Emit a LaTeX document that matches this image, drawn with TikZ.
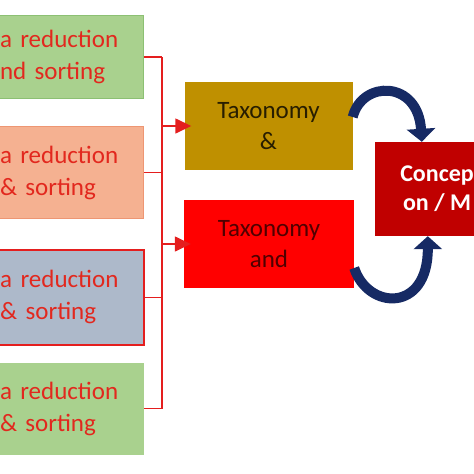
\documentclass[tikz,border=0pt]{standalone}
\usepackage{fontspec}
\setmainfont{Carlito}
\usepackage{xcolor}
\usetikzlibrary{arrows.meta,positioning}
\definecolor{lightgreen}{RGB}{169, 209, 142}
\definecolor{greenborder}{RGB}{140, 192, 115}
\definecolor{salmon}{RGB}{245, 177, 145}
\definecolor{salmonborder}{RGB}{238, 150, 115}
\definecolor{bluegray}{RGB}{173, 185, 202}
\definecolor{linkred}{RGB}{228, 30, 30}
\definecolor{textred}{RGB}{226, 40, 30}
\definecolor{gold}{RGB}{191, 144, 0}
\definecolor{brightred}{RGB}{255, 0, 0}
\definecolor{darkred}{RGB}{192, 0, 0}
\definecolor{navy}{RGB}{22, 42, 100}

\tikzset{
    srcbox/.style={rectangle, anchor=north west, minimum width=147pt, minimum height=92pt,
        text width=140pt, align=left, inner xsep=2pt, text=textred, line width=1pt,
        font=\fontsize{25}{32}\selectfont},
    taxbox/.style={rectangle, minimum width=168pt, minimum height=88pt, align=center,
        font=\fontsize{25}{31}\selectfont},
    link/.style={draw=linkred, line width=1.5pt},
    feed/.style={link, -{Triangle[length=16pt, width=15pt]}},
    turn/.style={draw=navy, line width=10pt, -{Triangle[length=13pt, width=28pt]}}
}

\begin{document}
\begin{tikzpicture}[x=1pt, y=-1pt]
        \useasboundingbox (0,0) rectangle (474,474);

        % sources
        \node[srcbox, fill=lightgreen, draw=greenborder, minimum height=83pt] (b1) at (-4,15) {a reduction\\nd sorting};
        \node[srcbox, fill=salmon, draw=salmonborder] (b2) at (-4,126) {a reduction\\\& sorting};
        \node[srcbox, fill=bluegray, draw=linkred, line width=1.5pt, minimum height=95pt] (b3) at (-4,249) {a reduction\\\& sorting};
        \node[srcbox, fill=lightgreen] (b4) at (-4,362) {a reduction\\\& sorting};

        % taxonomy boxes
        \node[taxbox, fill=gold, text={rgb,255:red,40;green,30;blue,0}] (t1) at (268.5,126) {Taxonomy\\\&};
        \node[taxbox, fill=brightred, text={rgb,255:red,80;green,0;blue,0}, minimum width=170pt] (t2) at (269,244) {Taxonomy\\and};

        \node[rectangle, fill=darkred, text=white, minimum width=124pt, minimum height=94pt, align=center,
            font=\fontsize{24}{29}\selectfont\bfseries] (c) at (437,189) {Concep\\on / M};

        % bracket
        \coordinate (bus) at (162,0);
        \foreach \b in {b1,b2,b3,b4}
            \draw[link] (\b.east) -- (\b.east -| bus);
        \draw[link] (b1.east -| bus) -- (b4.east -| bus);
        \draw[feed] (bus |- t1.west) -- ([xshift=7pt]t1.west);
        \draw[feed] (bus |- t2.west) -- ([xshift=7pt]t2.west);

        % loop arrows
        \draw[turn] ([yshift=9pt]t1.east) .. controls (362,80) and (418,80) .. ([xshift=47pt]c.north west);
        \draw[turn] ([yshift=-24pt]t2.east) .. controls (368,310) and (428,313) .. ([xshift=53pt]c.south west);
    \end{tikzpicture}
\end{document}
